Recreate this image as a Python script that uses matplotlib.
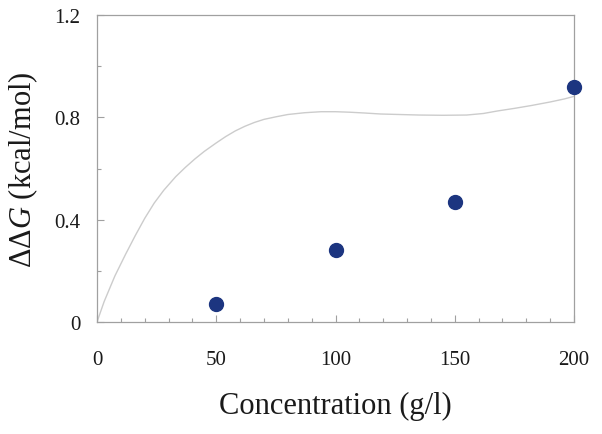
import numpy as np
import matplotlib
matplotlib.use('Agg')
import matplotlib.pyplot as plt
from matplotlib.ticker import MultipleLocator

plt.rcParams['font.family'] = ['Liberation Serif', 'DejaVu Serif']
plt.rcParams['mathtext.fontset'] = 'custom'
plt.rcParams['mathtext.rm'] = 'Liberation Serif'
plt.rcParams['mathtext.it'] = 'Liberation Serif:italic'

# measured points
conc = [50, 100, 150, 200]
ddg = [0.07, 0.28, 0.47, 0.92]

# fitted curve
curve_x = [0, 3, 7.5, 12, 16, 20, 24, 28, 33, 37, 41, 45, 50, 54, 58, 62, 66, 70,
           75, 80, 87, 94, 100, 106, 112, 119, 127, 135, 145, 155, 162, 168, 175,
           182, 190, 196, 200]
curve_y = [0, 0.08, 0.18, 0.265, 0.337, 0.405, 0.465, 0.515, 0.568, 0.604, 0.637,
           0.667, 0.700, 0.725, 0.747, 0.765, 0.780, 0.792, 0.802, 0.811, 0.818,
           0.822, 0.822, 0.820, 0.817, 0.813, 0.811, 0.809, 0.808, 0.809, 0.815,
           0.825, 0.835, 0.846, 0.860, 0.872, 0.882]

fig = plt.figure(figsize=(6.02, 4.35), dpi=100)
ax = fig.add_axes([97/602, 1 - 323/435, (574-97)/602, (323-16)/435])

ax.plot(curve_x, curve_y, color='#cccccc', linewidth=1.0)
ax.plot(conc, ddg, 'o', color='#1c3580', markersize=10, clip_on=False, zorder=5)

ax.set_xlim(0, 200)
ax.set_ylim(0, 1.2)
ax.xaxis.set_major_locator(MultipleLocator(50))
ax.xaxis.set_minor_locator(MultipleLocator(10))
ax.yaxis.set_major_locator(MultipleLocator(0.4))
ax.yaxis.set_minor_locator(MultipleLocator(0.2))
ax.yaxis.set_major_formatter(plt.FuncFormatter(lambda v, p: '0' if v == 0 else '%.1f' % v))

for s in ax.spines.values():
    s.set_color('#a0a0a0')
    s.set_linewidth(0.9)
ax.tick_params(which='both', direction='in', color='#a0a0a0', width=0.8)
ax.tick_params(which='major', length=5, labelsize=15, labelcolor='#1a1a1a')
ax.tick_params(which='minor', length=3)
ax.tick_params(axis='x', which='major', pad=20)
ax.tick_params(axis='y', which='major', pad=12)

ax.set_xlabel('Concentration (g/l)', fontsize=22, labelpad=16, color='#1a1a1a')
ax.set_ylabel(r'$\Delta\Delta G$ (kcal/mol)', fontsize=22, labelpad=10, color='#1a1a1a')

fig.savefig('out.png', dpi=100)
